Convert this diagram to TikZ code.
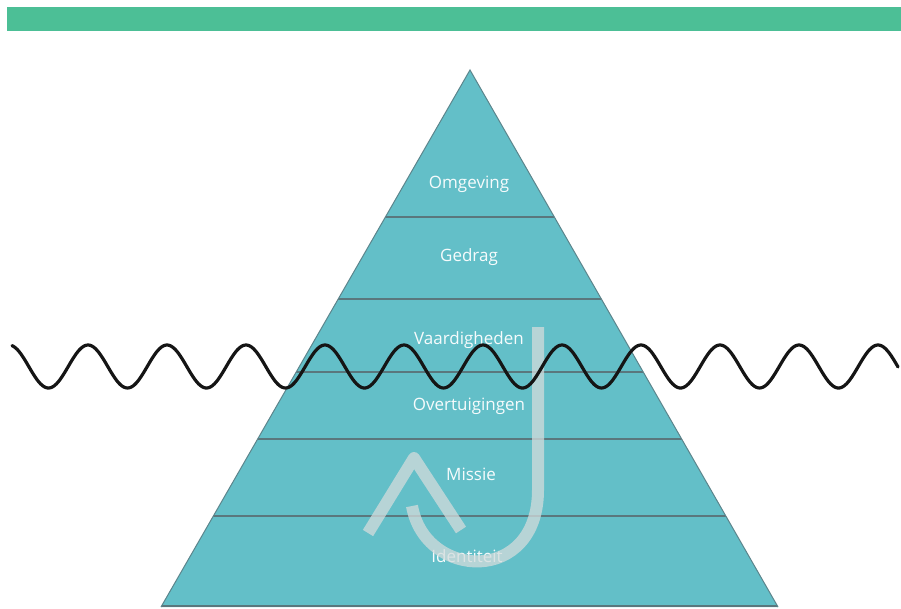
\documentclass[tikz,border=0pt]{standalone}
\usepackage{fontspec}
\setmainfont{Open Sans}
\definecolor{barGreen}{HTML}{4CBF96}
\definecolor{pyrTeal}{HTML}{63BFC8}
\definecolor{bandLine}{HTML}{5A777D}
\definecolor{arrowGray}{HTML}{D4DCDC}
\definecolor{waveBlack}{HTML}{151515}
\begin{document}
\begin{tikzpicture}[x=1pt,y=-1pt,
  label/.style={text=white!94!pyrTeal, font=\fontsize{17}{19}\selectfont, inner sep=0pt},
  bandsep/.style={draw=bandLine, line width=2.8pt},
  journey/.style={draw=arrowGray, opacity=0.75, line width=12pt, line join=round}]
\useasboundingbox (0,0) rectangle (901,609);
\fill[white] (0,0) rectangle (901,609);
% top bar
\fill[barGreen] (7,7) rectangle (901,31);
% pyramid
\coordinate (apex) at (470,70);
\coordinate (bl) at (161,607);
\coordinate (br) at (778,607);
\fill[pyrTeal] (apex) -- (bl) -- (br) -- cycle;
\begin{scope}
  \clip (apex) -- (bl) -- (br) -- cycle;
  \foreach \yy in {217,299,372,439,516}
    \draw[bandsep] (100,\yy) -- (850,\yy);
  \draw[bandsep] (100,606) -- (850,606);
\end{scope}
\draw[bandLine!80!pyrTeal, line width=1pt] (bl) -- (apex) -- (br);
% labels
\node[label] (omg) at (469,184) {Omgeving};
\node[label] (ged) at (469,257) {Gedrag};
\node[label] (vaa) at (469,340) {Vaardigheden};
\node[label] (ove) at (469,406) {Overtuigingen};
\node[label] (mis) at (471,474) {Missie};
\node[label] (ide) at (467,556) {Identiteit};
% journey arrow
\coordinate (jtop) at (538,327);
\coordinate (jturn) at (538,490);
\coordinate (jend) at (412,506);
\coordinate (chl) at (368,533);
\coordinate (cht) at (414,458);
\coordinate (chr) at (461,530);
\draw[journey] (jtop) -- (jturn) .. controls (538,585) and (425,580) .. (jend);
\draw[journey] (chl) -- (cht) -- (chr);
% wave
\draw[waveBlack, line width=3.2pt, line cap=round]
  plot[domain=12:898, samples=500, smooth] (\x, {366.5 - 21.5*cos((\x-9)/79*360)});
\end{tikzpicture}
\end{document}
